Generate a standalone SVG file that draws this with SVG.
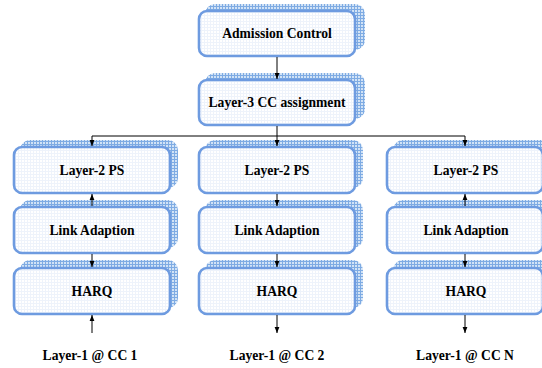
<svg xmlns="http://www.w3.org/2000/svg" width="542" height="368" viewBox="0 0 542 368">
  <defs>
    <!-- hatched backing card -->
    <pattern id="grid" width="3" height="3" patternUnits="userSpaceOnUse">
      <rect width="3" height="3" fill="#d2e3f6"/>
      <path d="M0 0.5H3M0.5 0V3" stroke="#7eabe3" stroke-width="1"/>
    </pattern>
    <!-- faint gridded face -->
    <pattern id="dots" width="3" height="3" patternUnits="userSpaceOnUse">
      <rect width="3" height="3" fill="#ffffff"/>
      <path d="M0 0.5H3M0.5 0V3" stroke="#eef3fb" stroke-width="1"/>
    </pattern>
    <marker id="ah" viewBox="0 0 6 6" refX="6" refY="3" markerWidth="6" markerHeight="6" markerUnits="userSpaceOnUse" orient="auto">
      <path d="M0 0.6L6 3L0 5.4Z" fill="#000"/>
    </marker>
    <style>
      .back { fill: url(#grid); }
      .face { fill: url(#dots); stroke: #6e9be0; stroke-width: 2.6; }
      .lbl { font-family: "Liberation Serif", "Times New Roman", serif; font-weight: bold; font-size: 13.6px; fill: #000; text-anchor: middle; }
      .wire { stroke: #000; stroke-width: 1; fill: none; }
    </style>
  </defs>

  <g id="admission-control">
    <rect class="back" x="205" y="4" width="160" height="46" rx="10"/>
    <rect class="face" x="199" y="11" width="156" height="45" rx="8"/>
    <text class="lbl" x="277" y="38">Admission Control</text>
  </g>
  <g id="cc-assignment">
    <rect class="back" x="205" y="73" width="160" height="46" rx="10"/>
    <rect class="face" x="199" y="80" width="156" height="45" rx="8"/>
    <text class="lbl" x="277" y="107">Layer-3 CC assignment</text>
  </g>

  <!-- column 1 -->
  <g id="ps-1">
    <rect class="back" x="20" y="140" width="158" height="48" rx="10"/>
    <rect class="face" x="14" y="147" width="156" height="46" rx="8"/>
    <text class="lbl" x="92" y="174.5">Layer-2 PS</text>
  </g>
  <g id="la-1">
    <rect class="back" x="20" y="200" width="158" height="48" rx="10"/>
    <rect class="face" x="14" y="207" width="156" height="46" rx="8"/>
    <text class="lbl" x="92" y="234.5">Link Adaption</text>
  </g>
  <g id="harq-1">
    <rect class="back" x="20" y="260" width="158" height="48" rx="10"/>
    <rect class="face" x="14" y="268" width="156" height="46" rx="8"/>
    <text class="lbl" x="92" y="295.5">HARQ</text>
  </g>
  <g id="l1-1"><text class="lbl" x="90" y="360">Layer-1 @ CC 1</text></g>

  <!-- column 2 -->
  <g id="ps-2">
    <rect class="back" x="205" y="140" width="158" height="48" rx="10"/>
    <rect class="face" x="199" y="147" width="156" height="46" rx="8"/>
    <text class="lbl" x="277" y="174.5">Layer-2 PS</text>
  </g>
  <g id="la-2">
    <rect class="back" x="205" y="200" width="158" height="48" rx="10"/>
    <rect class="face" x="199" y="207" width="156" height="46" rx="8"/>
    <text class="lbl" x="277" y="234.5">Link Adaption</text>
  </g>
  <g id="harq-2">
    <rect class="back" x="205" y="260" width="158" height="48" rx="10"/>
    <rect class="face" x="199" y="268" width="156" height="46" rx="8"/>
    <text class="lbl" x="277" y="295.5">HARQ</text>
  </g>
  <g id="l1-2"><text class="lbl" x="277" y="360">Layer-1 @ CC 2</text></g>

  <!-- column 3 -->
  <g id="ps-3">
    <rect class="back" x="393" y="140" width="158" height="48" rx="10"/>
    <rect class="face" x="387" y="147" width="156" height="46" rx="8"/>
    <text class="lbl" x="466" y="174.5">Layer-2 PS</text>
  </g>
  <g id="la-3">
    <rect class="back" x="393" y="200" width="158" height="48" rx="10"/>
    <rect class="face" x="387" y="207" width="156" height="46" rx="8"/>
    <text class="lbl" x="466" y="234.5">Link Adaption</text>
  </g>
  <g id="harq-3">
    <rect class="back" x="393" y="260" width="158" height="48" rx="10"/>
    <rect class="face" x="387" y="268" width="156" height="46" rx="8"/>
    <text class="lbl" x="466" y="295.5">HARQ</text>
  </g>
  <g id="l1-3"><text class="lbl" x="465" y="360">Layer-1 @ CC N</text></g>

  <g id="connectors">
    <line class="wire" x1="277" y1="57" x2="277" y2="79" marker-end="url(#ah)"/>
    <line class="wire" x1="277" y1="126" x2="277" y2="136"/>
    <line class="wire" x1="92" y1="136" x2="465" y2="136"/>
    <line class="wire" x1="92" y1="136" x2="92" y2="146" marker-end="url(#ah)"/>
    <line class="wire" x1="277" y1="136" x2="277" y2="146" marker-end="url(#ah)"/>
    <line class="wire" x1="465" y1="136" x2="465" y2="146" marker-end="url(#ah)"/>

    <line class="wire" x1="92" y1="206" x2="92" y2="194" marker-end="url(#ah)"/>
    <line class="wire" x1="92" y1="254" x2="92" y2="267" marker-end="url(#ah)"/>
    <line class="wire" x1="92" y1="333" x2="92" y2="315" marker-end="url(#ah)"/>

    <line class="wire" x1="277" y1="194" x2="277" y2="206" marker-end="url(#ah)"/>
    <line class="wire" x1="277" y1="254" x2="277" y2="267" marker-end="url(#ah)"/>
    <line class="wire" x1="277" y1="315" x2="277" y2="333" marker-end="url(#ah)"/>

    <line class="wire" x1="465" y1="206" x2="465" y2="194" marker-end="url(#ah)"/>
    <line class="wire" x1="465" y1="254" x2="465" y2="267" marker-end="url(#ah)"/>
    <line class="wire" x1="465" y1="315" x2="465" y2="333" marker-end="url(#ah)"/>
  </g>
</svg>
